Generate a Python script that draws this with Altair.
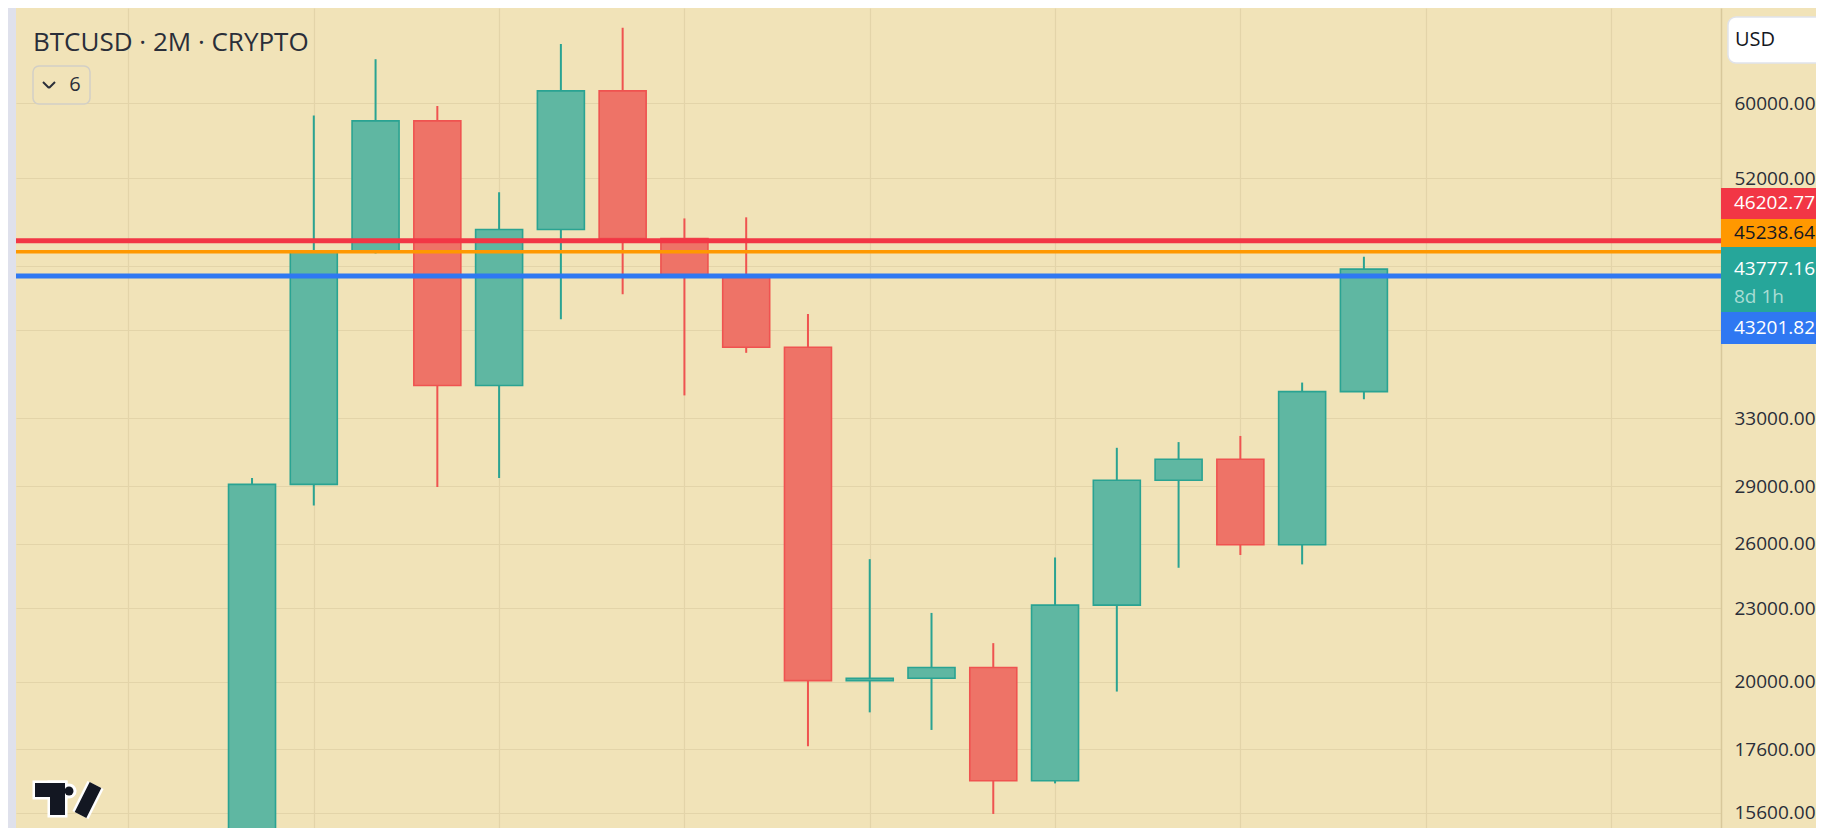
import altair as alt
import pandas as pd

# ---------------- data ----------------
periods = ["2020-11", "2021-01", "2021-03", "2021-05", "2021-07", "2021-09", "2021-11",
           "2022-01", "2022-03", "2022-05", "2022-07", "2022-09", "2022-11",
           "2023-01", "2023-03", "2023-05", "2023-07", "2023-09", "2023-11"]
opens = [13800, 29100, 45300, 58000, 35100, 47200, 61400,
         46400, 43300, 37750, 20050, 20140, 20560,
         16580, 23140, 29330, 30520, 25950, 34700]
highs = [29450, 58600, 65200, 59650, 50650, 67100, 69200,
         48200, 48300, 40200, 25250, 22800, 21530,
         25330, 31190, 31530, 31900, 35300, 44820]
lows = [13200, 27950, 45100, 28950, 29450, 39800, 41750,
        34450, 37350, 17700, 18880, 18260, 15570,
        16500, 19640, 24840, 25450, 25000, 34200]
closes = [29100, 45300, 58000, 35100, 47200, 61400, 46400,
          43300, 37750, 20050, 20140, 20560, 16580,
          23140, 29330, 30520, 25950, 34700, 43777.16]

level_names = ["red", "orange", "blue"]
level_prices = [46202.77, 45238.64, 43201.82]
countdown = "8d 1h"

y_tick_values = [15600, 17600, 20000, 23000, 26000, 29000, 33000, 39000, 44000, 52000, 60000]
x_grid_positions = list(range(-2, 24, 3))

title_text = "BTCUSD · 2M · CRYPTO"
indicator_count = "6"
currency = "USD"

# ---------------- styling ----------------
W, H = 1705, 820
FONT = "Open Sans"
LABEL_SIZE = 19
BG = "#f1e3b8"
GRID = "#e3d4a9"
TEXT = "#2a2e39"
UP_FILL, UP_LINE = "#5fb7a2", "#2aa392"
DN_FILL, DN_LINE = "#ee7367", "#ef5350"
LEVEL_COLOR = {"red": "#f23645", "orange": "#ff9800", "blue": "#2f78f2"}
LEVEL_WIDTH = {"red": 5, "orange": 3.5, "blue": 5}
LEVEL_TEXT = {"red": "white", "orange": "#131722", "blue": "white"}
BOX = {"red": (180, 211, 195), "orange": (211, 239, 225), "blue": (304, 336, 320)}
CUR_BOX = (239, 304, 261, 289)
CUR_COLOR = "#26a69a"

candles = pd.DataFrame({
    "period": periods,
    "i": list(range(len(periods))),
    "open": opens, "high": highs, "low": lows, "close": closes,
})
candles["dir"] = ["up" if c >= o else "down" for o, c in zip(opens, closes)]

xscale = alt.Scale(domain=[-3.74, 23.70], nice=False, zero=False)
yscale = alt.Scale(type="log", domain=[15160, 71855], nice=False)

xaxis = alt.Axis(values=x_grid_positions, labels=False, ticks=False, domain=False,
                 title=None, grid=True, gridColor=GRID, gridWidth=1.2)
yaxis = alt.Axis(orient="right", values=y_tick_values, format=".2f", title=None,
                 ticks=False, domain=True, domainColor="#d8c89b", domainWidth=1.5,
                 grid=True, gridColor=GRID, gridWidth=1.2,
                 labelFont=FONT, labelFontSize=LABEL_SIZE, labelColor=TEXT, labelPadding=13,
                 labelOverlap=False, zindex=0,
                 labelExpr="(datum.value == 39000 || datum.value == 44000) ? '' : datum.label")

line_scale = alt.Scale(domain=["up", "down"], range=[UP_LINE, DN_LINE])
fill_scale = alt.Scale(domain=["up", "down"], range=[UP_FILL, DN_FILL])

wicks = alt.Chart(candles).mark_rule(strokeWidth=2, clip=True).encode(
    x=alt.X("i:Q", scale=xscale, axis=xaxis),
    y=alt.Y("low:Q", scale=yscale, axis=yaxis),
    y2="high:Q",
    color=alt.Color("dir:N", scale=line_scale, legend=None),
)
bodies = alt.Chart(candles).mark_bar(size=47, strokeWidth=1.6, clip=True).encode(
    x=alt.X("i:Q", scale=xscale, axis=xaxis),
    y=alt.Y("open:Q", scale=yscale, axis=yaxis),
    y2="close:Q",
    fill=alt.Fill("dir:N", scale=fill_scale, legend=None),
    stroke=alt.Stroke("dir:N", scale=line_scale, legend=None),
)

layers = [wicks, bodies]

one = pd.DataFrame({"k": [0]})

for name, price in zip(level_names, level_prices):
    d = pd.DataFrame({"price": [price]})
    layers.append(
        alt.Chart(d).mark_rule(color=LEVEL_COLOR[name], strokeWidth=LEVEL_WIDTH[name], clip=True)
        .encode(y=alt.Y("price:Q", scale=yscale, axis=yaxis))
    )

# price labels on the scale
for name, price in zip(level_names, level_prices):
    d = pd.DataFrame({"price": [price]})
    top, bot, mid = BOX[name]
    layers.append(alt.Chart(d).mark_rect(color=LEVEL_COLOR[name]).encode(
        x=alt.value(W), x2=alt.value(W + 120), y=alt.value(top), y2=alt.value(bot)))
    layers.append(alt.Chart(d).mark_text(align="left", baseline="middle", font=FONT,
                                         fontSize=LABEL_SIZE, color=LEVEL_TEXT[name]).encode(
        x=alt.value(W + 13), y=alt.value(mid), text=alt.Text("price:Q", format=".2f")))

cur = pd.DataFrame({"price": [closes[-1]], "cd": [countdown]})
layers.append(alt.Chart(cur).mark_rect(color=CUR_COLOR).encode(
    x=alt.value(W), x2=alt.value(W + 120), y=alt.value(CUR_BOX[0]), y2=alt.value(CUR_BOX[1])))
layers.append(alt.Chart(cur).mark_text(align="left", baseline="middle", font=FONT,
                                       fontSize=LABEL_SIZE, color="white").encode(
    x=alt.value(W + 13), y=alt.value(CUR_BOX[2]), text=alt.Text("price:Q", format=".2f")))
layers.append(alt.Chart(cur).mark_text(align="left", baseline="middle", font=FONT,
                                       fontSize=LABEL_SIZE, color="#a9ddd4").encode(
    x=alt.value(W + 13), y=alt.value(CUR_BOX[3]), text="cd:N"))

# left strip
layers.append(alt.Chart(one).mark_rect(color="#dfe1ec").encode(
    x=alt.value(-8), x2=alt.value(0), y=alt.value(0), y2=alt.value(H)))

# title and indicator button
layers.append(alt.Chart(one).mark_text(text=title_text, align="left", baseline="alphabetic",
                                       font=FONT, fontSize=26, color=TEXT).encode(
    x=alt.value(17), y=alt.value(43)))
layers.append(alt.Chart(one).mark_rect(fill=BG, stroke="#d2cfc6", strokeWidth=1.5,
                                       cornerRadius=6).encode(
    x=alt.value(17), x2=alt.value(74), y=alt.value(58), y2=alt.value(96)))
layers.append(alt.Chart(one).mark_rule(color=TEXT, strokeWidth=2).encode(
    x=alt.value(27), y=alt.value(74), x2=alt.value(33), y2=alt.value(80)))
layers.append(alt.Chart(one).mark_rule(color=TEXT, strokeWidth=2).encode(
    x=alt.value(33), y=alt.value(80), x2=alt.value(39), y2=alt.value(74)))
layers.append(alt.Chart(one).mark_text(text=indicator_count, align="center", baseline="middle",
                                       font=FONT, fontSize=20, color=TEXT).encode(
    x=alt.value(59), y=alt.value(77)))

# currency button
layers.append(alt.Chart(one).mark_rect(fill="white", stroke="#e0e3eb", strokeWidth=1.5,
                                       cornerRadius=8).encode(
    x=alt.value(1712), x2=alt.value(1840), y=alt.value(9), y2=alt.value(55)))
layers.append(alt.Chart(one).mark_text(text=currency, align="left", baseline="middle",
                                       font=FONT, fontSize=20, color="#131722").encode(
    x=alt.value(1719), y=alt.value(32)))

# logo
LOGO = "#131722"
for col, extra in (("white", 5), (LOGO, 0)):
    layers.append(alt.Chart(one).mark_rect(color=col, stroke=col, strokeWidth=extra if extra else 0.01).encode(
        x=alt.value(19), x2=alt.value(49), y=alt.value(775), y2=alt.value(789)))
    layers.append(alt.Chart(one).mark_rect(color=col, stroke=col, strokeWidth=extra if extra else 0.01).encode(
        x=alt.value(34), x2=alt.value(49), y=alt.value(775), y2=alt.value(807)))
    layers.append(alt.Chart(one).mark_rule(color=col, strokeWidth=13 + extra).encode(
        x=alt.value(64.5), y=alt.value(807), x2=alt.value(79.5), y2=alt.value(777)))
    layers.append(alt.Chart(one).mark_circle(color=col, opacity=1, size=80 + extra * 30).encode(
        x=alt.value(53), y=alt.value(783)))

chart = alt.layer(*layers).properties(
    width=W, height=H, background=BG,
    padding={"left": 8, "top": 0, "right": 95, "bottom": 0},
    autosize=alt.AutoSizeParams(type="none"),
).configure_view(strokeWidth=0)

chart.save("out.html", embed_options={"renderer": "svg", "actions": False})
